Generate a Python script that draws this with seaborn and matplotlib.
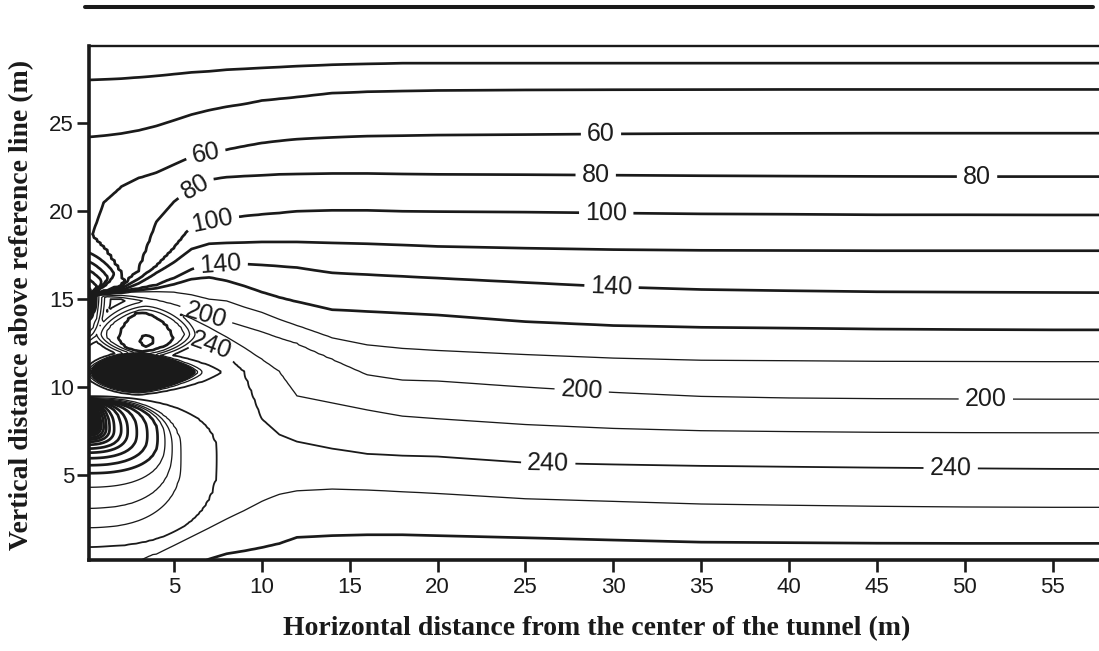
import numpy as np
import matplotlib
matplotlib.use("Agg")
import matplotlib.pyplot as plt
from matplotlib.lines import Line2D
import seaborn as sns

sns.set_theme(style="white")
plt.rcParams["font.family"] = ["Liberation Sans", "DejaVu Sans"]

# ---------------------------------------------------------------------------
# Background stress field: height (m) of each contour level at stations along x
# ---------------------------------------------------------------------------
X_STATIONS = [0, 1, 2, 3, 4, 5, 6, 7, 8, 9, 10, 11, 12, 14, 16, 18, 20, 25, 30, 35, 40, 45, 50, 55, 58]

H300 = [-3.5, -3.3, -3.1, -2.9, -2.7, -2.4, -2.1, -1.7, -1.4, -1.2, -1.1, -1.0, -0.9, -0.9, -0.9, -0.9, -0.9, -0.9, -0.9, -0.95, -0.95, -0.95, -0.95, -0.95, -0.95]
H280 = [-1.6, -1.4, -1.2, -1.0, -0.8, -0.5, -0.2, 0.22, 0.52, 0.68, 0.87, 1.1, 1.45, 1.55, 1.6, 1.6, 1.55, 1.43, 1.3, 1.18, 1.15, 1.12, 1.11, 1.11, 1.11]
H260 = [-0.9, -0.6, -0.3, 0.1, 0.5, 0.95, 1.45, 1.95, 2.5, 2.95, 3.5, 3.9, 4.1, 4.2, 4.15, 4.05, 3.95, 3.65, 3.5, 3.35, 3.28, 3.22, 3.18, 3.16, 3.16]
H240 = [15.12, 15.1, 15.0, 14.75, 14.35, 13.8, 13.15, 12.45, 11.85, 10.9, 8.2, 7.3, 6.9, 6.5, 6.2, 6.1, 6.05, 5.7, 5.6, 5.52, 5.47, 5.42, 5.38, 5.35, 5.34]
H220 = [15.14, 15.15, 15.1, 14.95, 14.7, 14.35, 13.9, 13.4, 12.85, 12.25, 11.6, 10.9, 9.5, 9.1, 8.7, 8.35, 8.2, 7.87, 7.65, 7.52, 7.47, 7.43, 7.41, 7.4, 7.4]
H200 = [15.16, 15.18, 15.22, 15.1, 14.95, 14.7, 14.35, 14.0, 13.75, 13.45, 13.15, 12.8, 12.5, 11.6, 10.7, 10.4, 10.35, 10.0, 9.7, 9.47, 9.38, 9.34, 9.32, 9.31, 9.31]
H180 = [15.18, 15.25, 15.35, 15.45, 15.45, 15.4, 15.25, 15.0, 14.9, 14.55, 14.25, 13.85, 13.5, 12.8, 12.4, 12.2, 12.08, 11.85, 11.65, 11.53, 11.5, 11.47, 11.46, 11.45, 11.45]
H160 = [15.2, 15.3, 15.4, 15.5, 15.62, 15.85, 16.15, 16.25, 16.05, 15.75, 15.4, 15.1, 14.85, 14.4, 14.3, 14.2, 14.1, 13.72, 13.5, 13.4, 13.35, 13.3, 13.27, 13.25, 13.25]
H140 = [15.22, 15.35, 15.45, 15.6, 15.8, 16.2, 16.7, 16.95, 17.0, 17.0, 16.95, 16.88, 16.8, 16.5, 16.4, 16.3, 16.2, 15.95, 15.7, 15.55, 15.48, 15.42, 15.4, 15.38, 15.37]
H120 = [15.24, 15.4, 15.5, 15.9, 16.5, 17.1, 17.85, 18.15, 18.2, 18.22, 18.25, 18.25, 18.25, 18.2, 18.15, 18.08, 18.0, 17.9, 17.82, 17.78, 17.77, 17.76, 17.76, 17.76, 17.76]
H100 = [15.26, 15.45, 15.6, 16.15, 16.85, 17.9, 19.15, 19.42, 19.6, 19.72, 19.82, 19.9, 20.0, 20.05, 20.05, 20.0, 19.98, 19.95, 19.9, 19.85, 19.83, 19.8, 19.8, 19.79, 19.79]
H80 = [15.3, 15.55, 15.75, 16.6, 19.4, 20.55, 21.3, 21.8, 21.95, 22.0, 22.05, 22.1, 22.12, 22.15, 22.15, 22.12, 22.1, 22.08, 22.05, 22.02, 22.0, 21.98, 21.97, 21.97, 21.97]
H60 = [17.6, 20.5, 21.4, 21.9, 22.2, 22.65, 23.1, 23.3, 23.5, 23.7, 23.88, 24.0, 24.1, 24.2, 24.27, 24.3, 24.33, 24.36, 24.4, 24.42, 24.43, 24.44, 24.44, 24.44, 24.44]
H40 = [24.23, 24.3, 24.42, 24.6, 24.85, 25.17, 25.5, 25.75, 25.95, 26.1, 26.3, 26.4, 26.5, 26.73, 26.8, 26.85, 26.88, 26.9, 26.92, 26.93, 26.94, 26.94, 26.94, 26.94, 26.94]
H20 = [27.47, 27.5, 27.55, 27.62, 27.7, 27.8, 27.9, 27.96, 28.05, 28.1, 28.15, 28.2, 28.25, 28.33, 28.38, 28.42, 28.42, 28.42, 28.42, 28.42, 28.42, 28.42, 28.42, 28.42, 28.42]
H0 = [29.9, 29.9, 30.0, 30.0, 30.1, 30.1, 30.2, 30.2, 30.3, 30.3, 30.3, 30.3, 30.3, 30.3, 30.3, 30.3, 30.3, 30.3, 30.3, 30.3, 30.3, 30.3, 30.3, 30.3, 30.3]

BACKGROUND_LEVELS = [300, 280, 260, 240, 220, 200, 180, 160, 140, 120, 100, 80, 60, 40, 20, 0]
BACKGROUND_HEIGHTS = [H300, H280, H260, H240, H220, H200, H180, H160, H140, H120, H100, H80, H60, H40, H20, H0]

# ---------------------------------------------------------------------------
# Low-stress pockets around the opening: nested contour rings
# (level, centre x, centre y, half-width left, right, half-height down, up)
# ---------------------------------------------------------------------------
DARK_LOBE = [
    (270, 3.0, 10.85, 3.4, 5.0, 1.45, 1.42),
    (240, 3.0, 10.85, 3.05, 4.7, 1.28, 1.22),
    (220, 3.0, 10.85, 2.85, 3.6, 1.17, 1.13),
    (200, 3.0, 10.85, 2.75, 3.35, 1.12, 1.09),
    (180, 3.0, 10.85, 2.68, 3.2, 1.09, 1.06),
    (160, 3.0, 10.85, 2.62, 3.12, 1.06, 1.04),
    (-600, 3.0, 10.85, 2.0, 2.4, 0.8, 0.8),
    (-1500, 3.0, 10.85, 1.2, 1.5, 0.5, 0.5),
    (-2400, 3.0, 10.85, 0.45, 0.55, 0.18, 0.18),
    (-2800, 3.0, 10.85, 0.08, 0.1, 0.04, 0.04),
]
UPPER_LOBE = [
    (270, 3.4, 13.0, 3.5, 3.6, 1.7, 2.6),
    (240, 3.4, 13.0, 3.05, 3.2, 1.45, 2.2),
    (220, 3.4, 13.0, 2.8, 2.8, 1.3, 1.85),
    (200, 3.4, 13.0, 2.55, 2.5, 1.2, 1.6),
    (180, 3.4, 13.0, 2.3, 2.2, 1.12, 1.4),
    (160, 3.1, 12.75, 1.3, 1.9, 0.75, 1.55),
    (140, 3.45, 12.63, 0.45, 0.45, 0.36, 0.37),
    (130, 3.45, 12.63, 0.05, 0.05, 0.04, 0.04),
]
LOWER_LOBE = [
    (270, 0.0, 6.0, 1.0, 8.4, 5.9, 3.85),
    (240, 0.0, 6.0, 1.0, 7.5, 5.1, 3.45),
    (220, 0.0, 6.1, 1.0, 5.4, 4.1, 3.3),
    (200, 0.0, 6.5, 1.0, 4.9, 3.4, 2.85),
    (180, 0.0, 6.9, 1.0, 4.5, 2.6, 2.4),
    (160, 0.0, 7.1, 1.0, 4.1, 2.0, 2.15),
    (140, 0.0, 7.25, 1.0, 3.5, 1.7, 1.98),
    (120, 0.0, 7.4, 1.0, 2.9, 1.45, 1.8),
    (80, 0.0, 7.55, 1.0, 2.0, 1.05, 1.6),
    (0, 0.0, 7.7, 1.0, 1.0, 0.6, 1.4),
    (-200, 0.0, 7.8, 1.0, 0.35, 0.2, 1.2),
    (-300, 0.0, 7.85, 1.0, 0.05, 0.03, 0.05),
]
CROWN_BELOW = [
    (270, 0.0, 15.2, 1.0, 1.5, 3.2, 0.15),
    (240, 0.0, 15.2, 1.0, 1.25, 2.85, 0.12),
    (220, 0.0, 15.2, 1.0, 1.05, 2.6, 0.1),
    (200, 0.0, 15.2, 1.0, 0.9, 2.4, 0.09),
    (180, 0.0, 15.2, 1.0, 0.75, 2.2, 0.08),
    (160, 0.0, 15.2, 1.0, 0.55, 1.45, 0.07),
    (0, 0.0, 15.2, 1.0, 0.3, 0.7, 0.05),
    (-200, 0.0, 15.2, 1.0, 0.05, 0.05, 0.02),
]
CROWN_ABOVE = [
    (60, 0.0, 15.95, 1.0, 2.25, 0.75, 2.95),
    (40, 0.0, 16.45, 1.0, 1.6, 1.25, 1.25),
    (20, 0.0, 16.2, 1.0, 1.25, 1.0, 1.0),
    (0, 0.0, 15.95, 1.0, 0.95, 0.75, 0.75),
    (-20, 0.0, 15.7, 1.0, 0.65, 0.5, 0.5),
    (-40, 0.0, 15.45, 1.0, 0.38, 0.25, 0.25),
    (-120, 0.0, 15.25, 1.0, 0.06, 0.05, 0.05),
]

# contour labels: level -> label anchor points (m)
LABELS = {
    60: [(6.8, 23.3), (29.3, 24.45)],
    80: [(6.3, 21.2), (29.0, 22.0), (50.7, 21.97)],
    100: [(7.15, 19.6), (29.6, 19.9)],
    140: [(7.66, 17.0), (29.9, 15.7)],
    200: [(6.8, 14.0), (28.2, 9.75), (51.2, 9.34)],
    240: [(7.15, 12.4), (26.3, 5.68), (49.2, 5.38)],
}

# ---------------------------------------------------------------------------
# Field on a rectilinear grid
# ---------------------------------------------------------------------------
xs = np.concatenate([np.arange(0, 12, 0.2), np.arange(12, 20, 0.5), np.arange(20, 58.01, 1.0)])
ys = np.arange(-0.2, 29.81, 0.1)
X, Y = np.meshgrid(xs, ys)

heights = np.array(BACKGROUND_HEIGHTS, dtype=float)
values = np.array(BACKGROUND_LEVELS, dtype=float)
background = np.empty_like(X)
for j, xv in enumerate(xs):
    col_h = np.array([np.interp(xv, X_STATIONS, h) for h in heights])
    background[:, j] = np.interp(ys, col_h, values)


def ring_radius(ring, pl, pr):
    _, cx, cy, left, right, down, up = ring
    dx = X - cx
    dy = Y - cy
    ax_ = np.where(dx < 0, left, right)
    ay_ = np.where(dy < 0, down, up)
    p = np.where(dx < 0, pl, pr)
    return (np.abs(dx / ax_) ** p + np.abs(dy / ay_) ** p) ** (1.0 / p)


def pocket(rings, pl=2.0, pr=2.0):
    R = np.array([ring_radius(r, pl, pr) for r in rings])
    levs = [r[0] for r in rings]
    field = np.full(X.shape, np.inf)
    field[R[-1] <= 1] = levs[-1]
    for k in range(len(rings) - 1):
        m = (R[k] <= 1) & (R[k + 1] > 1)
        t = np.clip((1 - R[k][m]) / (R[k + 1][m] - R[k][m]), 0, 1)
        field[m] = levs[k] + (levs[k + 1] - levs[k]) * t
    return field


Z = np.minimum.reduce([
    background,
    pocket(DARK_LOBE, pl=1.8, pr=1.4),
    pocket(UPPER_LOBE, pl=1.6, pr=1.6),
    pocket(LOWER_LOBE, pl=2.5, pr=2.5),
    pocket(CROWN_BELOW),
    pocket(CROWN_ABOVE, pl=1.3, pr=1.3),
])

# ---------------------------------------------------------------------------
# Figure
# ---------------------------------------------------------------------------
PX = 0.72  # points per pixel at 100 dpi


def line_width(lv):
    if lv == 240:
        return 1.8 * PX
    if 180 <= lv <= 260:
        return 1.3 * PX
    return 2.7 * PX


all_levels = np.arange(-3000, 281, 20)
label_levels = sorted(LABELS)
plain_levels = [lv for lv in all_levels if lv not in LABELS]

fig = plt.figure(figsize=(10.99, 6.51), dpi=100)
ax = fig.add_axes([88.7 / 1099, 91 / 651, 1 - 88.7 / 1099, 514 / 651])
ax.set_facecolor("white")

ax.contour(X, Y, Z, levels=plain_levels, colors="k",
           linewidths=[line_width(lv) for lv in plain_levels], linestyles="solid")
cs_lab = ax.contour(X, Y, Z, levels=label_levels, colors="k",
                    linewidths=[line_width(lv) for lv in label_levels], linestyles="solid")
anchors = [pt for lv in label_levels for pt in LABELS[lv]]
ax.clabel(cs_lab, manual=anchors, inline=True, inline_spacing=6,
          fmt="%d", fontsize=18, colors="k")

ax.set_xlim(0.15, 57.64)
ax.set_ylim(0.165, 29.4)
ax.set_xticks(range(5, 56, 5))
ax.set_yticks([5, 10, 15, 20, 25])

for side in ("left", "bottom"):
    ax.spines[side].set_linewidth(2.6)
    ax.spines[side].set_color("k")
ax.spines["top"].set_linewidth(1.7)
ax.spines["top"].set_color("k")
ax.spines["right"].set_visible(False)

ax.tick_params(axis="both", which="major", direction="out", length=8.5, width=1.9,
               colors="k", labelsize=16, bottom=True, left=True, top=False, right=False)
ax.tick_params(axis="x", pad=4.0)
ax.tick_params(axis="y", pad=2.0)

ax.set_xlabel("Horizontal distance from the center of the tunnel (m)",
              family="Liberation Serif", weight="bold", fontsize=20, color="k")
ax.xaxis.set_label_coords(0.5026, (560 - 629) / 514)
ax.xaxis.label.set_va("center")
ax.set_ylabel("Vertical distance above reference line (m)",
              family="Liberation Serif", weight="bold", fontsize=20, color="k")
ax.yaxis.set_label_coords((22 - 88.7) / 1010.3, (560 - 305) / 514)
ax.yaxis.label.set_va("center")

# heavy rule across the top of the figure
fig.add_artist(Line2D([85 / 1099, 1093 / 1099], [644 / 651, 644 / 651],
                      color="k", lw=2.9, transform=fig.transFigure))

fig.savefig("out.png", dpi=100)
